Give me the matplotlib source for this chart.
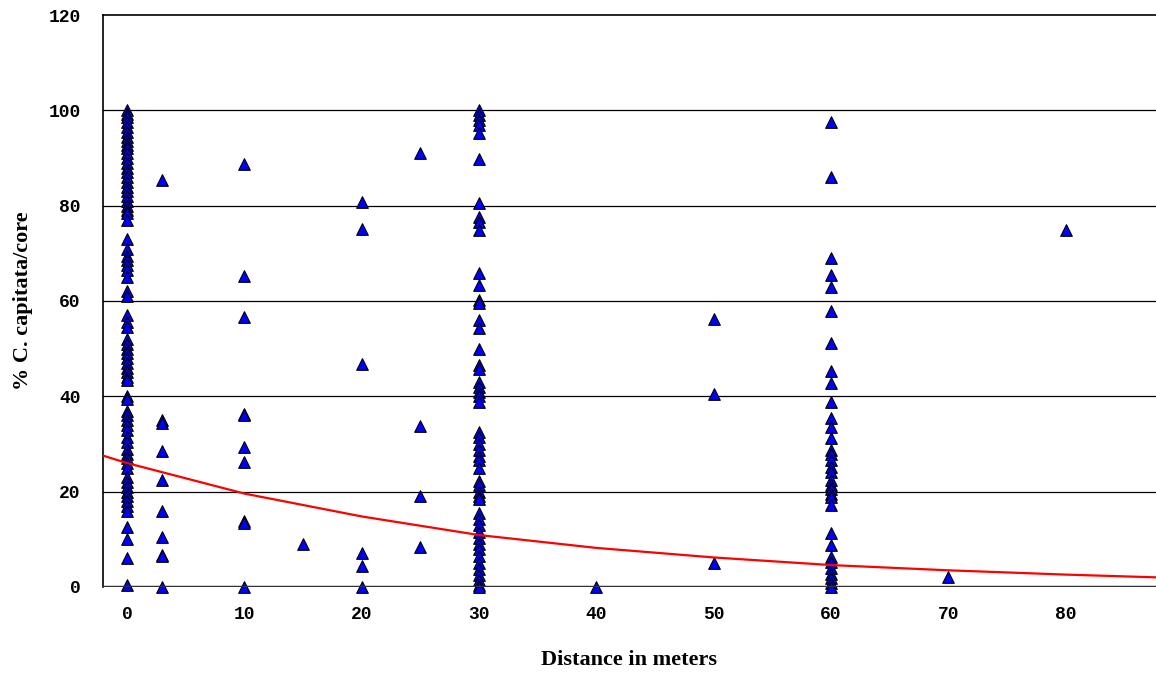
#!/usr/bin/env python3

import matplotlib
matplotlib.use("Agg")
import matplotlib.pyplot as plt

# Observed % C. capitata per core, grouped by distance (m).
dist_0 = [100, 99.2, 98.5, 97.5, 96.5, 95.5, 94.5, 93.5, 92.8, 92, 91, 90, 89, 88, 87,
          86, 85, 84, 83, 82, 81, 80, 79, 78.5, 77, 73, 71, 69.5, 68.5, 67.5, 66.5, 65,
          62, 61, 57, 55.5, 54.5, 52, 51, 50, 49, 48, 47, 46, 45, 44, 43.5, 40, 39.5,
          37, 36, 35, 34, 33, 31.5, 30.5, 29, 28, 27, 26, 25, 23, 22, 21, 20, 19, 18,
          17, 16, 12.5, 10, 6, 0.5]
dist_3 = [85.3, 35, 34.5, 28.5, 22.5, 16, 10.5, 6.8, 6.5, 0]
dist_10 = [88.8, 65.3, 56.7, 36.3, 36, 29.3, 26.2, 13.8, 13.5, 0]
dist_15 = [9]
dist_20 = [80.8, 75.2, 46.8, 7.2, 4.5, 0]
dist_25 = [91, 33.8, 19, 8.3]
dist_30 = [100, 99, 98, 97, 95.3, 89.7, 80.5, 77.6, 76.5, 74.8, 65.8, 63.3, 60.2, 59.5,
           56, 54.3, 50, 46.5, 45.8, 43, 42, 41, 40, 38.8, 32.5, 31.5, 30, 28.7, 27.5,
           26.6, 25, 22.2, 21.5, 20, 19, 18.4, 15.5, 14.2, 13, 11.5, 10.2, 9, 8, 6.5,
           5, 3.8, 2.5, 1.5, 0.5, 0]
dist_40 = [0]
dist_50 = [56.3, 40.5, 5]
dist_60 = [97.5, 86, 69, 65.4, 63, 58, 51.2, 45.3, 42.8, 38.8, 35.4, 33.5, 31.2, 28.7,
           27.8, 26.6, 25.2, 24.1, 22.4, 21.5, 20.5, 19.5, 18.9, 17.2, 11.3, 8.8, 6.3,
           5.2, 4, 2.8, 1.8, 0.8, 0]
dist_70 = [2.2]
dist_80 = [75]

groups = {0: dist_0, 3: dist_3, 10: dist_10, 15: dist_15, 20: dist_20, 25: dist_25,
          30: dist_30, 40: dist_40, 50: dist_50, 60: dist_60, 70: dist_70, 80: dist_80}

# Fitted trend line.
trend_x = [-2.1, 0, 10, 20, 30, 40, 50, 60, 70, 80, 88]
trend_y = [27.6, 26.0, 19.6, 14.8, 10.9, 8.2, 6.2, 4.6, 3.5, 2.6, 2.0]

xs, ys = [], []
for d, vals in groups.items():
    xs += [d] * len(vals)
    ys += vals

fig = plt.figure(figsize=(11.56, 6.73), dpi=100)
ax = fig.add_axes([0.0891, 0.1278, 0.9109, 0.8499])

ax.scatter(xs, ys, marker="^", s=70, facecolor="#0000ff", edgecolor="black",
           linewidth=0.8, zorder=3, clip_on=False)
ax.plot(trend_x, trend_y, color="#ff0000", lw=1.6, zorder=4)

for g in [20, 40, 60, 80, 100]:
    ax.axhline(g, color="black", lw=0.9, zorder=1)
ax.axhline(0, color="#333333", lw=2.5, zorder=5)

ax.set_xlim(-2.05, 87.7)
ax.set_ylim(0, 120)
ax.set_xticks(range(0, 90, 10))
ax.set_yticks(range(0, 140, 20))
ax.tick_params(axis="y", length=0, pad=16)
ax.tick_params(axis="x", length=0, pad=14)
for lab in ax.get_xticklabels() + ax.get_yticklabels():
    lab.set_family("Liberation Mono")
    lab.set_weight("bold")
    lab.set_fontsize(13)

for s in ["bottom", "right"]:
    ax.spines[s].set_visible(False)
ax.spines["left"].set_linewidth(1.2)
ax.spines["top"].set_linewidth(1.2)

ax.set_xlabel("Distance in meters", family="Liberation Serif", weight="bold",
              fontsize=16, labelpad=19)
ax.set_ylabel("% C. capitata/core", family="Liberation Serif", weight="bold",
              fontsize=16, labelpad=11)

plt.savefig("out.png")
